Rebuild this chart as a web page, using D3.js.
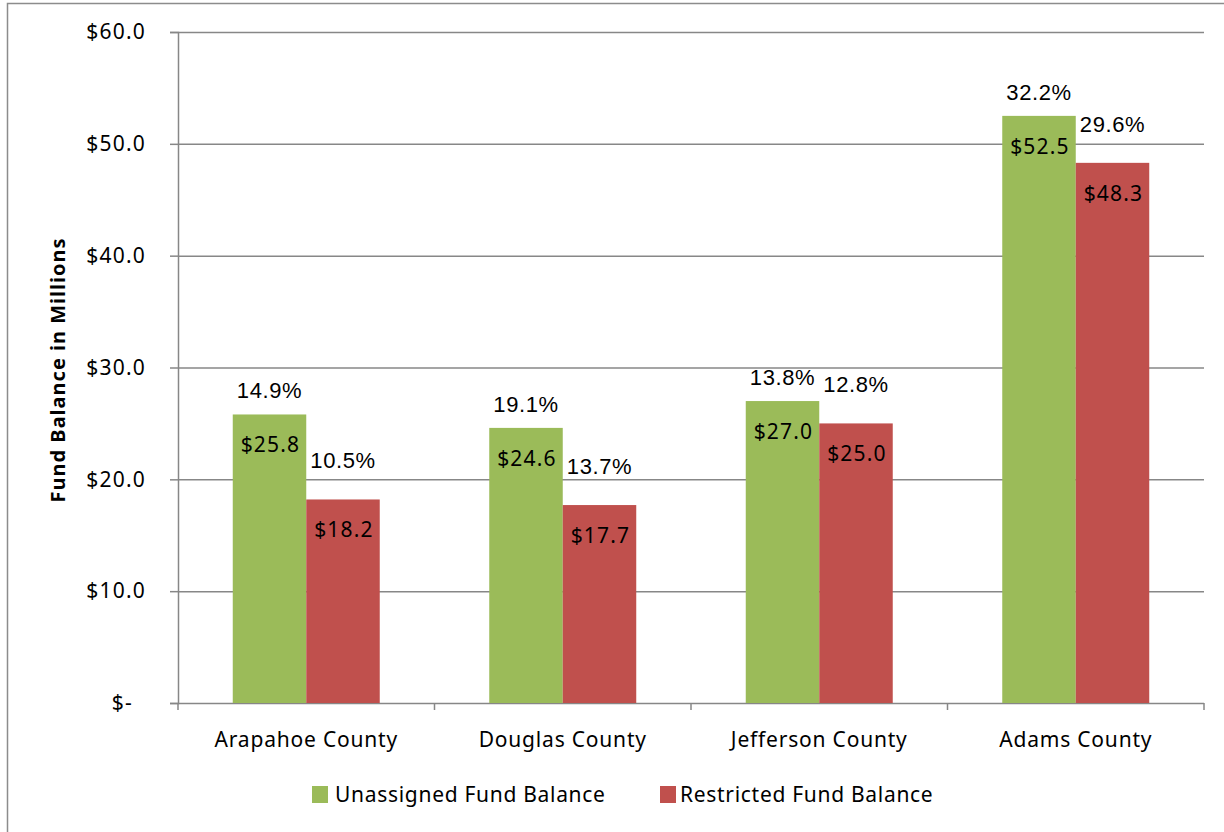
<!DOCTYPE html>
<html>
<head>
<meta charset="utf-8">
<script src="https://cdn.jsdelivr.net/npm/d3@7"></script>
<style>
    body { margin: 0; background: #ffffff; }
    svg { display: block; }
</style>
</head>
<body>
<svg id="chart" width="1224" height="832"></svg>
<script>
// chart data
const counties = ["Arapahoe County", "Douglas County", "Jefferson County", "Adams County"];
const seriesNames = ["Unassigned Fund Balance", "Restricted Fund Balance"];
const unassigned = [25.8, 24.6, 27.0, 52.5];
const restricted = [18.2, 17.7, 25.0, 48.3];
const unassignedPct = ["14.9%", "19.1%", "13.8%", "32.2%"];
const restrictedPct = ["10.5%", "13.7%", "12.8%", "29.6%"];
const yTicks = [0, 10, 20, 30, 40, 50, 60];
const colors = ["#9bbb59", "#c0504d"];

const svg = d3.select("#chart");
const calibriLike = "'Noto Sans', 'Open Sans', sans-serif";
const arialLike = "'Liberation Sans', Arial, sans-serif";
const gridColor = "#878787";

// plot area
const plotLeft = 178, plotRight = 1204, plotTop = 32, plotBottom = 703;

// outer chart frame
svg.append("rect")
    .attr("x", 7.5).attr("y", 3.5)
    .attr("width", 1300).attr("height", 900)
    .attr("fill", "none")
    .attr("stroke", "#8c8c8c")
    .attr("stroke-width", 1.5);

const x = d3.scaleBand().domain(counties).range([plotLeft, plotRight]);
const xSub = d3.scaleBand().domain(seriesNames).range([0, x.bandwidth()]).paddingOuter(0.745);
const y = d3.scaleLinear().domain([0, 60]).range([plotBottom, plotTop]);

// horizontal gridlines
svg.append("g")
    .attr("transform", `translate(${plotLeft},0)`)
    .call(d3.axisLeft(y).tickValues(yTicks).tickSize(-(plotRight - plotLeft)).tickFormat(""))
    .call(g => g.select(".domain").remove())
    .call(g => g.selectAll("line").attr("stroke", gridColor).attr("stroke-width", 1.5));

// y axis with tick labels
const yAxis = svg.append("g")
    .attr("transform", `translate(${plotLeft},0)`)
    .call(d3.axisLeft(y).tickValues(yTicks).tickSize(8).tickPadding(25)
        .tickFormat(d => d === 0 ? "$-" : "$" + d3.format(".1f")(d)));
yAxis.select(".domain").attr("stroke", gridColor).attr("stroke-width", 1.5);
yAxis.selectAll("line").attr("stroke", gridColor).attr("stroke-width", 1.5);
yAxis.selectAll("text")
    .attr("font-family", calibriLike)
    .attr("font-size", 21)
    .attr("letter-spacing", 1.2)
    .attr("fill", "#000")
    .attr("x", d => d === 0 ? -45 : -32);

// bottom axis, ticks between categories
const boundaries = counties.map(c => x(c)).concat([plotRight]);
svg.append("g").selectAll("line")
    .data(boundaries)
    .join("line")
    .attr("x1", d => d).attr("x2", d => d)
    .attr("y1", plotBottom).attr("y2", plotBottom + 7)
    .attr("stroke", gridColor)
    .attr("stroke-width", 1.5);

svg.append("g").selectAll("text")
    .data(counties)
    .join("text")
    .attr("x", d => x(d) + x.bandwidth() / 2)
    .attr("y", 747)
    .attr("text-anchor", "middle")
    .attr("font-family", calibriLike)
    .attr("font-size", 21)
    .attr("letter-spacing", 0.8)
    .text(d => d);

// y axis title
svg.append("text")
    .attr("transform", "translate(65,370) rotate(-90)")
    .attr("text-anchor", "middle")
    .attr("font-family", calibriLike)
    .attr("font-size", 20)
    .attr("font-weight", "bold")
    .attr("letter-spacing", 1)
    .text("Fund Balance  in Millions");

// build rows for the bars
const rows = [];
counties.forEach((c, i) => {
    rows.push({ county: c, series: seriesNames[0], value: unassigned[i], pct: unassignedPct[i], color: colors[0] });
    rows.push({ county: c, series: seriesNames[1], value: restricted[i], pct: restrictedPct[i], color: colors[1] });
});

svg.append("g").selectAll("rect")
    .data(rows)
    .join("rect")
    .attr("x", d => x(d.county) + xSub(d.series))
    .attr("y", d => y(d.value))
    .attr("width", xSub.bandwidth())
    .attr("height", d => y(0) - y(d.value))
    .attr("fill", d => d.color);

// value labels inside the top of each bar
svg.append("g").selectAll("text")
    .data(rows)
    .join("text")
    .attr("x", d => x(d.county) + xSub(d.series) + xSub.bandwidth() / 2 + 1)
    .attr("y", d => y(d.value) + 38)
    .attr("text-anchor", "middle")
    .attr("font-family", calibriLike)
    .attr("font-size", 21)
    .attr("letter-spacing", 1.2)
    .text(d => "$" + d3.format(".1f")(d.value));

// percentage labels above each bar
svg.append("g").selectAll("text")
    .data(rows)
    .join("text")
    .attr("x", d => x(d.county) + xSub(d.series) + xSub.bandwidth() / 2)
    .attr("y", d => y(d.value) - (d.series === seriesNames[0] ? 16 : 31))
    .attr("text-anchor", "middle")
    .attr("font-family", arialLike)
    .attr("font-size", 22)
    .attr("letter-spacing", 0.6)
    .text(d => d.pct);

// legend
const legendX = [312, 660];
const legend = svg.append("g").selectAll("g")
    .data(seriesNames)
    .join("g")
    .attr("transform", (d, i) => `translate(${legendX[i]},786)`);
legend.append("rect")
    .attr("width", 16).attr("height", 17)
    .attr("fill", (d, i) => colors[i]);
legend.append("text")
    .attr("x", (d, i) => i === 0 ? 23 : 20)
    .attr("y", 16)
    .attr("font-family", calibriLike)
    .attr("font-size", 21)
    .attr("letter-spacing", 0.7)
    .text(d => d);
</script>
</body>
</html>
